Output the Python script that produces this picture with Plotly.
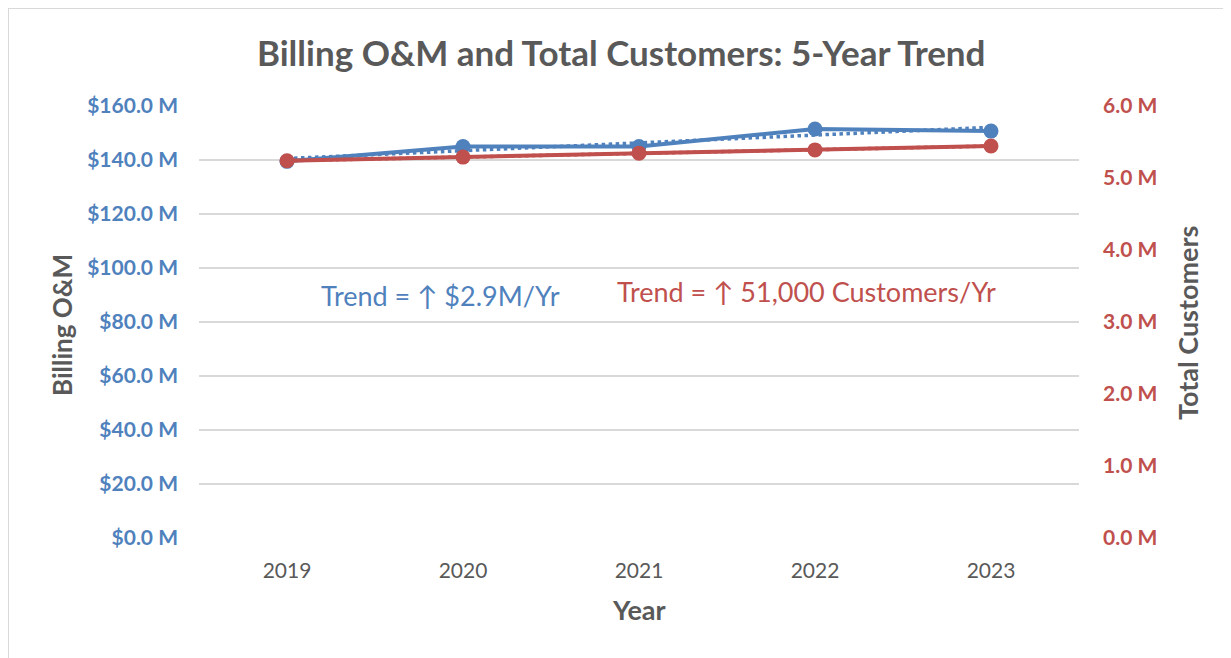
import plotly.graph_objects as go

years = ["2019", "2020", "2021", "2022", "2023"]
billing_om = [139.5, 145.0, 145.0, 151.5, 150.7]          # $ millions
customers = [5.24, 5.29, 5.345, 5.39, 5.445]               # millions
left_ticks = [0, 20, 40, 60, 80, 100, 120, 140, 160]
right_ticks = [0, 1, 2, 3, 4, 5, 6]

BLUE = "#4F81BD"
RED = "#C0504D"
GREY = "#595959"
FONT = "Lato"

OFF = 8  # page body margin offset
L, T = 199 - OFF, 106 - OFF
PW, PH = 880, 432
R, B = 1231 - L - PW, 658 - T - PH

def px(x):
    return (x - OFF - L) / PW

def py(y):
    return (T + PH - (y - OFF)) / PH

def linfit(vals):
    n = len(vals)
    xs = list(range(n))
    mx = sum(xs) / n
    my = sum(vals) / n
    slope = sum((x - mx) * (v - my) for x, v in zip(xs, vals)) / sum((x - mx) ** 2 for x in xs)
    return [my + slope * (x - mx) for x in xs]

fig = go.Figure()
fig.add_trace(go.Scatter(x=years, y=linfit(billing_om), mode="lines",
                         line=dict(color=BLUE, width=3.5, dash="dot"), showlegend=False, yaxis="y"))
fig.add_trace(go.Scatter(x=years, y=billing_om, mode="lines+markers",
                         line=dict(color=BLUE, width=4), marker=dict(size=15, color=BLUE),
                         showlegend=False, yaxis="y"))
fig.add_trace(go.Scatter(x=years, y=linfit(customers), mode="lines",
                         line=dict(color=RED, width=3.5, dash="dot"), showlegend=False, yaxis="y2"))
fig.add_trace(go.Scatter(x=years, y=customers, mode="lines+markers",
                         line=dict(color=RED, width=4), marker=dict(size=15, color=RED),
                         showlegend=False, yaxis="y2"))

fig.update_layout(
    width=1231, height=658,
    margin=dict(l=L, r=R, t=T, b=B, autoexpand=False),
    paper_bgcolor="white", plot_bgcolor="white",
    font=dict(family=FONT, color=GREY),
    xaxis=dict(type="category", range=[-0.5, 4.5], showgrid=False, showline=False,
               ticks="", tickfont=dict(size=21, color=GREY), ticklabelstandoff=18,
               automargin=False),
    yaxis=dict(range=[0, 160], tickvals=left_ticks,
               ticktext=[f"<b>${v:.1f} M</b>" for v in left_ticks],
               tickfont=dict(size=21, color=BLUE), gridcolor="#D9D9D9", gridwidth=2,
               zeroline=False, showline=False, ticks="", ticklabelstandoff=20,
               automargin=False),
    yaxis2=dict(range=[0, 6], tickvals=right_ticks, overlaying="y", side="right",
                ticktext=[f"<b>{v:.1f} M</b>" for v in right_ticks],
                tickfont=dict(size=21, color=RED), showgrid=False, zeroline=False,
                showline=False, ticks="", ticklabelstandoff=23, automargin=False),
)

# chart title
fig.add_annotation(text="<b>Billing O&M and Total Customers: 5-Year Trend</b>",
                   xref="paper", yref="paper", x=px(621), y=py(52), showarrow=False,
                   xanchor="center", yanchor="middle",
                   font=dict(size=35, color=GREY, family=FONT))
# axis titles
fig.add_annotation(text="<b>Year</b>", xref="paper", yref="paper", x=px(639), y=py(609),
                   showarrow=False, xanchor="center", yanchor="middle",
                   font=dict(size=27, color=GREY, family=FONT))
fig.add_annotation(text="<b>Billing O&M</b>", xref="paper", yref="paper", x=px(62), y=py(325),
                   showarrow=False, textangle=-90, xanchor="center", yanchor="middle",
                   font=dict(size=26, color=GREY, family=FONT))
fig.add_annotation(text="<b>Total Customers</b>", xref="paper", yref="paper", x=px(1187), y=py(323),
                   showarrow=False, textangle=-90, xanchor="center", yanchor="middle",
                   font=dict(size=27, color=GREY, family=FONT))

# trend labels
fig.add_annotation(text="Trend = ↑ $2.9M/Yr", xref="paper", yref="paper",
                   x=px(319), y=py(295), showarrow=False, xanchor="left", yanchor="middle",
                   font=dict(size=27, color=BLUE, family=FONT))
fig.add_annotation(text="Trend = ↑ 51,000 Customers/Yr", xref="paper", yref="paper",
                   x=px(615), y=py(291), showarrow=False, xanchor="left", yanchor="middle",
                   font=dict(size=27, color=RED, family=FONT))

fig.add_shape(type="rect", xref="paper", yref="paper",
              x0=px(OFF), x1=px(1260), y0=py(690), y1=py(OFF),
              line=dict(color="#D9D9D9", width=2), fillcolor="rgba(0,0,0,0)", layer="below")

fig.write_html("out.html")
